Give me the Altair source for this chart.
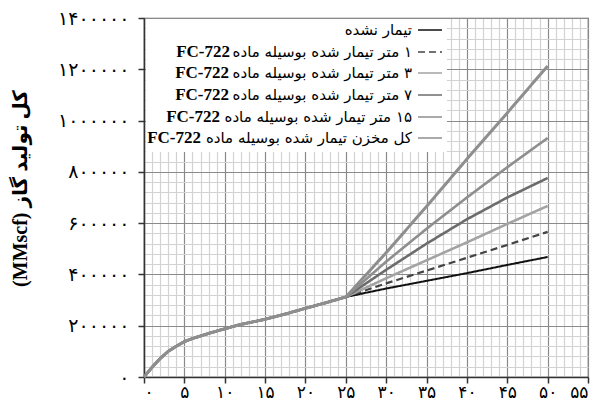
import altair as alt
import pandas as pd

# ---------------- data ----------------
series_keys = ["untreated", "m1", "m3", "m7", "m15", "whole"]
legend_fa = [
    "تیمار نشده",
    "۱ متر تیمار شده بوسیله ماده",
    "۳ متر تیمار شده بوسیله ماده",
    "۷ متر تیمار شده بوسیله ماده",
    "۱۵ متر تیمار شده بوسیله ماده",
    "کل مخزن تیمار شده بوسیله ماده",
]
legend_suffix = ["", "FC-722", "FC-722", "FC-722", "FC-722", "FC-722"]

base_x = [0, 1, 2, 3, 4, 5, 6, 8, 10, 12, 15, 18, 20, 22, 25]
base_y = [0, 38000, 72000, 100000, 120000, 138000, 150000, 170000, 188000,
          205000, 225000, 250000, 268000, 285000, 312000]
tail_x = [30, 35, 40, 45, 50]
tail_untreated = [345000, 375000, 405000, 437000, 468000]
tail_m1 = [365000, 415000, 465000, 515000, 566000]
tail_m3 = [385000, 455000, 525000, 597000, 667000]
tail_m7 = [418000, 520000, 615000, 700000, 776000]
tail_m15 = [450000, 578000, 700000, 818000, 932000]
tail_whole = [485000, 665000, 850000, 1030000, 1213000]
tails = [tail_untreated, tail_m1, tail_m3, tail_m7, tail_m15, tail_whole]

x_tick_values = [0, 5, 10, 15, 20, 25, 30, 35, 40, 45, 50, 55]
x_tick_labels = ["۰", "۵", "۱۰", "۱۵", "۲۰", "۲۵", "۳۰", "۳۵", "۴۰", "۴۵", "۵۰", "۵۵"]
y_tick_values = [0, 200000, 400000, 600000, 800000, 1000000, 1200000, 1400000]
y_tick_labels = ["۰", "۲۰۰۰۰۰", "۴۰۰۰۰۰", "۶۰۰۰۰۰", "۸۰۰۰۰۰", "۱۰۰۰۰۰۰", "۱۲۰۰۰۰۰", "۱۴۰۰۰۰۰"]

y_title = "کل تولید گاز (MMscf)"

# ---------------- styles ----------------
colors = ["#111111", "#444444", "#a3a3a3", "#6c6c6c", "#8e8e8e", "#8e8e8e"]
dashes = [[1, 0], [7, 4], [1, 0], [1, 0], [1, 0], [1, 0]]
widths = [2.0, 2.2, 2.6, 2.6, 2.6, 3.0]
RLE, PDF = "\u202B", "\u202C"
FA_FONT = "DejaVu Sans"
SERIF = "Liberation Serif, DejaVu Sans"


def js_list(lst):
    return "[" + ",".join(repr(v) if isinstance(v, str) else str(v) for v in lst) + "]"


x_label_expr = (f"indexof({js_list(x_tick_values)}, datum.value) >= 0 ? "
                f"{js_list(x_tick_labels)}[indexof({js_list(x_tick_values)}, datum.value)] : ''")
y_label_expr = (f"indexof({js_list(y_tick_values)}, datum.value) >= 0 ? "
                f"{js_list(y_tick_labels)}[indexof({js_list(y_tick_values)}, datum.value)] : ''")

x_axis = alt.Axis(
    values=list(range(0, 56)),
    labelExpr=x_label_expr,
    labelOverlap=False,
    labelFlush=True,
    labelFont=FA_FONT, labelFontSize=17, labelColor="#000", labelPadding=1,
    grid=True,
    gridColor={"condition": {"test": "datum.value % 5 === 0", "value": "#8a8a8a"}, "value": "#d2d2d2"},
    gridWidth=1.2,
    tickColor={"condition": {"test": "datum.value % 5 === 0", "value": "#333333"}, "value": "transparent"},
    tickSize=6, tickWidth=1.5,
    domainColor="#333333", domainWidth=1.5,
    title=None,
)
y_axis = alt.Axis(
    values=list(range(0, 1400001, 40000)),
    labelExpr=y_label_expr,
    labelOverlap=False,
    labelFlush=False,
    labelFont=FA_FONT, labelFontSize=19, labelColor="#000", labelPadding=9,
    grid=True,
    gridColor={"condition": {"test": "datum.value % 200000 === 0", "value": "#8a8a8a"}, "value": "#d2d2d2"},
    gridWidth=1.2,
    tickColor={"condition": {"test": "datum.value % 200000 === 0", "value": "#333333"}, "value": "transparent"},
    tickSize=6, tickWidth=1.5,
    domainColor="#333333", domainWidth=1.5,
    title=RLE + y_title + PDF,
    titleFont=SERIF, titleFontSize=20, titleFontWeight="bold", titleColor="#000",
    titleX=-114, titleY=170, titleAngle=270,
)

xs = alt.Scale(domain=[0, 55], nice=False)
ys = alt.Scale(domain=[0, 1400000], nice=False)

layers = []
for i, key in enumerate(series_keys):
    df = pd.DataFrame({"x": base_x + tail_x, "y": base_y + tails[i]})
    layers.append(
        alt.Chart(df).mark_line(color=colors[i], strokeDash=dashes[i], strokeWidth=widths[i])
        .encode(x=alt.X("x:Q", scale=xs, axis=x_axis),
                y=alt.Y("y:Q", scale=ys, axis=y_axis))
    )

# legend box (white background over the grid)
box = alt.Chart(pd.DataFrame({"a": [0]})).mark_rect(color="white").encode(
    x=alt.value(2), x2=alt.value(303), y=alt.value(1), y2=alt.value(134))
layers.append(box)

row_y = [12, 34, 55, 77, 99, 120]
fc_right = [0, 86, 85, 85, 76, 57]
for i in range(len(series_keys)):
    d = pd.DataFrame({"t": [RLE + legend_fa[i] + PDF], "s": [legend_suffix[i]]})
    layers.append(
        alt.Chart(d).mark_rule(color=colors[i], strokeDash=dashes[i], strokeWidth=1.6)
        .encode(x=alt.value(274), x2=alt.value(298), y=alt.value(row_y[i]))
    )
    layers.append(
        alt.Chart(d).mark_text(align="right", baseline="middle", font=FA_FONT, fontSize=15, color="#000")
        .encode(x=alt.value(268), y=alt.value(row_y[i]), text="t:N")
    )
    if legend_suffix[i]:
        layers.append(
            alt.Chart(d).mark_text(align="right", baseline="middle", font=SERIF, fontSize=17,
                                   fontWeight="bold", color="#000")
            .encode(x=alt.value(fc_right[i]), y=alt.value(row_y[i]), text="s:N")
        )

chart = alt.layer(*layers).properties(
    width=444, height=359,
    padding={"left": 136, "top": 10, "right": 2, "bottom": 23},
    autosize=alt.AutoSizeParams(type="none"),
).configure_view(stroke="#666666", strokeWidth=1.2)

chart.save("out.html", embed_options={"renderer": "svg", "actions": False})
